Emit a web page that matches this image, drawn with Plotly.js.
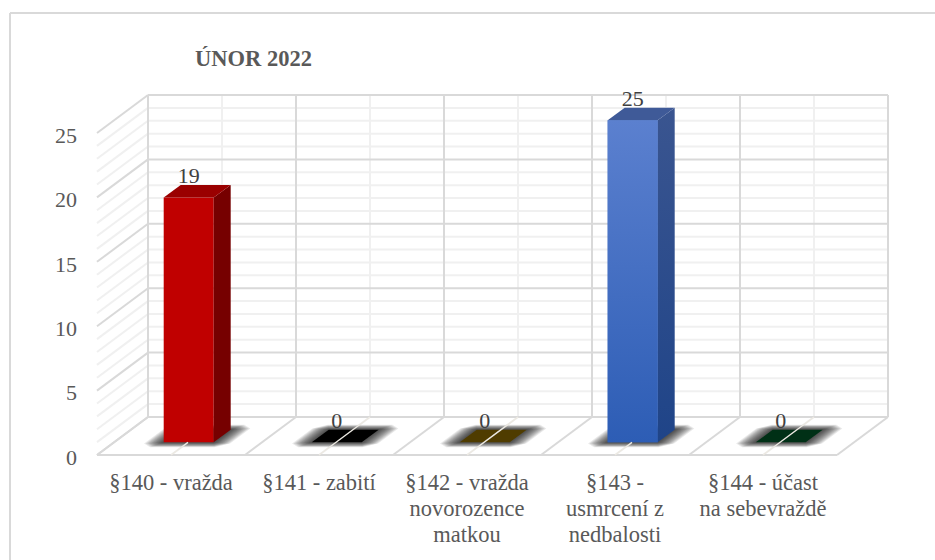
<!DOCTYPE html>
<html><head><meta charset="utf-8">
<script src="https://cdn.plot.ly/plotly-3.0.1.min.js"></script>
<style>html,body{margin:0;padding:0;background:#fff;overflow:hidden}#c{width:935px;height:560px}</style>
</head><body><div id="c"></div>
<script>
// ---- data ----
const categories = ['§140 - vražda','§141 - zabití','§142 - vražda<br>novorozence<br>matkou','§143 -<br>usmrcení z<br>nedbalosti','§144 - účast<br>na sebevraždě'];
const values = [19,0,0,25,0];
const yTicks = [0,5,10,15,20,25];
const title = 'ÚNOR 2022';
const frontColors = ['#c00000','#000000','#7f6000','#2f5fb9','#00401f'];
const sideColors = ['#760000','#000000','#4a3800','#27478c','#00331a'];
const topColors = ['#9a0000','#000000','#4f3c00','#3f5a98','#003016'];

// ---- page geometry (px) ----
const W=935,H=560,mL=90,mR=43,mT=92,mB=102;
const unitX=148,unitY=12.88,x0Px=97,y0Px=455;
const depthX=51/unitX, depthY=38/unitY;
const barW=50/unitX, d0=1/3, d1=2/3, barShift=0.7/unitX;
const nCat=categories.length, yMax=25;
const pj=(c,v,d)=>[c+d*depthX, v+d*depthY];
const xRange=[(mL-x0Px)/unitX,(W-mR-x0Px)/unitX];
const yRange=[(y0Px-(H-mB))/unitY,(y0Px-mT)/unitY];
const px=(x)=>(x-mL)/(W-mL-mR), py=(y)=>1-(y-mT)/(H-mT-mB);

// ---- grid as shapes below the traces ----
const shapes=[];
const seg=(a,b,color,width)=>shapes.push({type:'line',xref:'x',yref:'y',layer:'below',x0:a[0],y0:a[1],x1:b[0],y1:b[1],line:{color,width}});
const MAJ='#d9d9d9',MIN='#f0f0f0';
for(let v=1;v<=yMax;v++){ if(v%5===0)continue;
  seg(pj(0,v,1),pj(nCat,v,1),MIN,2); seg(pj(0,v,0),pj(0,v,1),MIN,2);}
for(let c=0;c<nCat;c++){
  seg(pj(c+.5,0,1),pj(c+.5,yMax,1),MIN,2);
  seg(pj(c+.5,0,0),pj(c+.5,0,1),MIN,2);
}
for(const v of yTicks){
  seg(pj(0,v,1),pj(nCat,v,1),MAJ,2); seg(pj(0,v,0),pj(0,v,1),MAJ,2);}
for(let c=0;c<=nCat;c++){
  seg(pj(c,0,1),pj(c,yMax,1),MAJ,2);
  seg(pj(c,0,0),pj(c,0,1),MAJ,2);
}
seg(pj(0,0,0),pj(nCat,0,0),MAJ,2);

// shadows: stacked translucent polygons
const layers=12;
values.forEach((val,i)=>{
  const cx=i+.5+barShift;
  for(let k=layers;k>=1;k--){
    const ex=k*1.5/unitX, ed=k*0.4/38, ch=k*0.9/unitX, chd=k*0.3/38;
    const L=cx-barW/2-ex, R=cx+barW/2+ex, A=d0-ed, B=d1+ed;
    const pts=[pj(L+ch,0,A),pj(R-ch,0,A),pj(R,0,A+chd),pj(R,0,B-chd),pj(R-ch,0,B),pj(L+ch,0,B),pj(L,0,B-chd),pj(L,0,A+chd)];
    shapes.push({type:'path',xref:'x',yref:'y',layer:'below',fillcolor:'rgba(0,0,0,0.085)',line:{width:0},
      path:'M'+pts.map(p=>p[0]+','+p[1]).join(' L')+' Z'});
  }
});

// chart frame (open on right and bottom)
shapes.push({type:'line',xref:'paper',yref:'paper',x0:px(10),x1:px(W),y0:py(13),y1:py(13),line:{color:'#d9d9d9',width:2}});
shapes.push({type:'line',xref:'paper',yref:'paper',x0:px(10),x1:px(10),y0:py(13),y1:py(H),line:{color:'#d9d9d9',width:2}});

// ---- traces ----
const poly=(pts,color,extra)=>Object.assign({type:'scatter',mode:'lines',x:pts.map(p=>p[0]).concat(pts[0][0]),y:pts.map(p=>p[1]).concat(pts[0][1]),
  fill:'toself',fillcolor:color,line:{width:0},hoverinfo:'skip',showlegend:false},extra||{});

const traces=[{type:'bar',x:values.map((_,i)=>i+.5+barShift+d0*depthX),y:values,base:values.map(()=>d0*depthY),width:barW,
  marker:{color:frontColors,line:{width:0}},hoverinfo:'skip',showlegend:false}];

values.forEach((v,i)=>{
  const L=i+.5+barShift-barW/2,R=i+.5+barShift+barW/2;
  if(v>0) traces.push(poly([pj(R,0,d0),pj(R,0,d1),pj(R,v,d1),pj(R,v,d0)],sideColors[i],
    i===3?{fillgradient:{type:'vertical',colorscale:[[0,'#1f4488'],[1,'#3a5590']]}}:{}));
  traces.push(poly([pj(L,v,d0),pj(R,v,d0),pj(R,v,d1),pj(L,v,d1)],topColors[i]));
  if(i===3) traces.push(poly([pj(L,0,d0),pj(R,0,d0),pj(R,v,d0),pj(L,v,d0)],frontColors[i],
    {fillgradient:{type:'vertical',colorscale:[[0,'#2d5db5'],[1,'#5b80cf']]}}));
  const a=pj(i+.5,0,0),b=pj(i+.5,0,v>0?d0:1);
  traces.push({type:'scatter',mode:'lines',x:[a[0],b[0]],y:[a[1],b[1]],line:{color:'#ece9e2',width:1.5},hoverinfo:'skip',showlegend:false});
});

// value labels
const labelDrop=3.5/unitY;
traces.push({type:'scatter',mode:'text',
  x:values.map((_,i)=>i+.5+barShift+d0*depthX),
  y:values.map(v=>v+d1*depthY-labelDrop),
  text:values.map(String),textposition:'top center',cliponaxis:false,
  textfont:{family:'"Liberation Serif",serif',size:22,color:'#404040'},hoverinfo:'skip',showlegend:false});

const layout={
  width:W,height:H,margin:{l:mL,r:mR,t:mT,b:mB,autoexpand:false},
  paper_bgcolor:'#fff',plot_bgcolor:'rgba(0,0,0,0)',showlegend:false,
  font:{family:'"Liberation Serif",serif',color:'#595959'},
  title:{text:'<b>'+title+'</b>',x:px(253.5),xanchor:'center',xref:'paper',y:1-58/H,yanchor:'middle',yref:'container',
    font:{family:'"Liberation Serif",serif',size:22.5,color:'#595959'}},
  xaxis:{range:xRange,showgrid:false,zeroline:false,showline:false,ticks:'',
    tickmode:'array',tickvals:categories.map((_,i)=>i+.5),
    ticktext:categories.map(s=>s.split('<br>').map(l=>'<span style="font-size:22.5px">'+l+'</span>').join('<br>')),
    tickangle:0,ticklabelstandoff:11,tickfont:{size:20,color:'#595959',family:'"Liberation Serif",serif'}},
  yaxis:{range:yRange,showgrid:false,zeroline:false,showline:false,ticks:'',
    tickmode:'array',tickvals:yTicks,ticktext:yTicks.map(String),ticklabelstandoff:12,ticklabelshift:2,
    tickfont:{size:22,color:'#595959',family:'"Liberation Serif",serif'}},
  shapes
};
Plotly.newPlot('c',traces,layout,{displayModeBar:false,staticPlot:true});
</script></body></html>
